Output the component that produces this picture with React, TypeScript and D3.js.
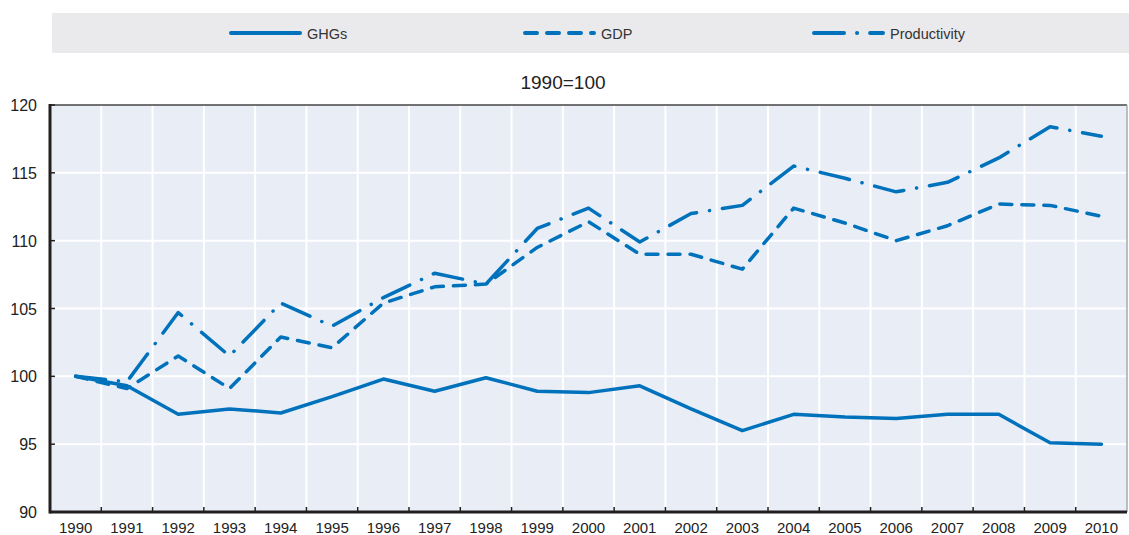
import React from "react";
import * as d3 from "d3";

const width = 1129;
const height = 535;
const margin = { top: 105, right: 2, bottom: 23, left: 50 };

// years on the x axis
const years = [
  "1990", "1991", "1992", "1993", "1994", "1995", "1996", "1997", "1998", "1999", "2000",
  "2001", "2002", "2003", "2004", "2005", "2006", "2007", "2008", "2009", "2010",
];

// series, 1990=100
const ghgs = [100, 99.3, 97.2, 97.6, 97.3, 98.5, 99.8, 98.9, 99.9, 98.9, 98.8, 99.3, 97.6, 96.0, 97.2, 97.0, 96.9, 97.2, 97.2, 95.1, 95.0];
const gdp = [100, 99.1, 101.5, 99.1, 102.9, 102.1, 105.4, 106.6, 106.8, 109.5, 111.4, 109.0, 109.0, 107.9, 112.4, 111.3, 110.0, 111.1, 112.7, 112.6, 111.8];
const productivity = [100, 99.6, 104.7, 101.5, 105.4, 103.7, 105.8, 107.6, 106.8, 110.9, 112.4, 109.9, 112.0, 112.6, 115.5, 114.6, 113.6, 114.3, 116.1, 118.4, 117.7];

const yTicks = [90, 95, 100, 105, 110, 115, 120];

const blue = "#0072bc";
const font = "'Liberation Sans', Arial, sans-serif";

const series = [
  { name: "GHGs", values: ghgs, dash: "none" },
  { name: "GDP", values: gdp, dash: "12,10" },
  { name: "Productivity", values: productivity, dash: "30,13,0.1,13" },
];

// legend line positions
const legendX = [231, 525, 814];

export default function App() {
  const x = d3.scaleBand<string>()
    .domain(years)
    .range([margin.left, width - margin.right])
    .padding(0);
  const y = d3.scaleLinear()
    .domain([90, 120])
    .range([height - margin.bottom, margin.top]);

  const line = d3.line<number>()
    .x((d, i) => (x(years[i]) as number) + x.bandwidth() / 2)
    .y((d) => y(d));

  const x0 = margin.left;
  const x1 = width - margin.right;
  const y0 = height - margin.bottom;
  const y1 = margin.top;

  return (
    <svg width={width} height={height} style={{ position: "absolute", left: 0, top: 0 }} fontFamily={font}>
      {/* Legende */}
      <rect x={52} y={13} width={1077} height={40} fill="#eaeaec" />
      {series.map((s, i) => (
        <g key={s.name}>
          <line x1={legendX[i]} x2={legendX[i] + 69} y1={33} y2={33} stroke={blue} strokeWidth={4}
            strokeDasharray={s.dash} strokeLinecap="round" />
          <text x={legendX[i] + 76} y={38.5} fontSize={14.5} fill="#333">{s.name}</text>
        </g>
      ))}

      <text x={563} y={89} fontSize={19} textAnchor="middle" fill="#222">1990=100</text>

      {/* Plotbereich */}
      <rect x={x0} y={y1} width={x1 - x0} height={y0 - y1} fill="#e8edf6" />
      {yTicks.slice(1, -1).map((t) => (
        <line key={t} x1={x0} x2={x1} y1={y(t)} y2={y(t)} stroke="#fff" strokeWidth={2} />
      ))}
      {years.slice(1).map((yr) => (
        <line key={yr} x1={x(yr)} x2={x(yr)} y1={y1} y2={y0} stroke="#fff" strokeWidth={2} />
      ))}
      <line x1={x0} x2={x1} y1={y1} y2={y1} stroke="#444" strokeWidth={1.5} />
      <line x1={x1} x2={x1} y1={y1} y2={y0} stroke="#aaa" strokeWidth={1.5} />

      {series.map((s) => (
        <path key={s.name} d={line(s.values) as string} fill="none" stroke={blue} strokeWidth={3.5}
          strokeDasharray={s.dash} strokeLinecap="round" strokeLinejoin="round" />
      ))}

      {/* Achsen */}
      {years.slice(1).map((yr) => (
        <line key={yr} x1={x(yr)} x2={x(yr)} y1={y0} y2={y0 - 5} stroke="#231f20" strokeWidth={1.5} />
      ))}
      {yTicks.map((t) => (
        <line key={t} x1={x0} x2={x0 + 5} y1={y(t)} y2={y(t)} stroke="#231f20" strokeWidth={1.5} />
      ))}
      <line x1={x0} x2={x0} y1={y1 - 1} y2={y0 + 1.5} stroke="#231f20" strokeWidth={3} />
      <line x1={x0} x2={x1} y1={y0} y2={y0} stroke="#231f20" strokeWidth={3} />

      {yTicks.map((t) => (
        <text key={t} x={37} y={y(t) + 6} fontSize={16} textAnchor="end" fill="#222">{t}</text>
      ))}
      {years.map((yr) => (
        <text key={yr} x={(x(yr) as number) + x.bandwidth() / 2} y={533} fontSize={15} textAnchor="middle" fill="#222">{yr}</text>
      ))}
    </svg>
  );
}
